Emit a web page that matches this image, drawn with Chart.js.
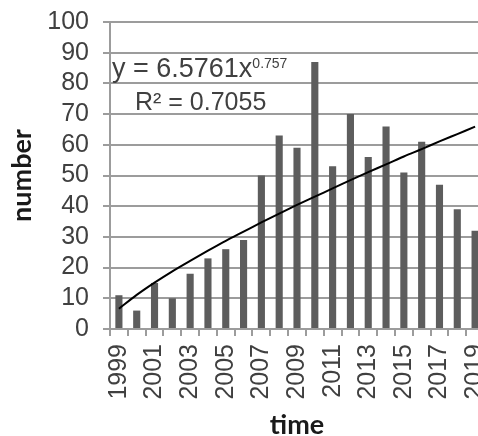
<!DOCTYPE html>
<html>
    <head>
        <meta charset="utf-8">
        <title>number by time</title>
        <script src="https://cdn.jsdelivr.net/npm/chart.js@4/dist/chart.umd.min.js"></script>
        <style>
            body { margin: 0; overflow: hidden; background: #fff; }
        </style>
    </head>
    <body>
        <canvas id="chart" width="478" height="436"></canvas>
        <script>
        // data
        const years = ['1999','2000','2001','2002','2003','2004','2005','2006','2007','2008','2009',
                       '2010','2011','2012','2013','2014','2015','2016','2017','2018','2019'];
        const counts = [11, 6, 15, 10, 18, 23, 26, 29, 50, 63, 59, 87, 53, 70, 56, 66, 51, 61, 47, 39, 32];
        // power trendline as drawn
        const trend = [6.6, 11.1, 15.1, 18.8, 22.2, 25.5, 28.7, 31.7, 34.7, 37.6, 40.4,
                       43.1, 45.8, 48.5, 51.1, 53.6, 56.2, 58.6, 61.1, 63.5, 65.9];

        const tickFont = { family: 'Liberation Sans', size: 25 };
        const titleFont = { family: 'Lato', size: 27, weight: 'bold', lineHeight: 1 };
        const gridColor = '#9c9c9c';

        // pin the plot box; it runs past the right edge of the window, like the original
        const pinPlot = {
            id: 'pinPlot',
            afterLayout(chart) {
                const x = chart.scales.x, y = chart.scales.y;
                const r = 484, t = 22;
                chart.chartArea.right = r;
                chart.chartArea.width = r - chart.chartArea.left;
                chart.chartArea.top = t;
                chart.chartArea.height = chart.chartArea.bottom - t;
                x.right = r;
                x.width = r - x.left;
                x.configure();
                y.top = t;
                y.height = y.bottom - t;
                y.configure();
            }
        };

        // gridlines, axis lines and tick marks, placed by the scales
        const gridRects = {
            id: 'gridRects',
            beforeDatasetsDraw(chart) {
                const c = chart.ctx, a = chart.chartArea;
                const x = chart.scales.x, y = chart.scales.y;
                c.save();
                c.fillStyle = gridColor;
                y.ticks.forEach(tk => {
                    const py = Math.round(y.getPixelForValue(tk.value));
                    c.fillRect(a.left - 7, py - 1, a.right - a.left + 7, 2);
                });
                c.fillRect(a.left - 1, a.top - 1, 2, a.bottom - a.top + 2);
                for (let i = 0; i <= years.length; i++) {
                    const px = Math.round(x.getPixelForValue(i - 0.5));
                    c.fillRect(px - 1, a.bottom, 2, 7);
                }
                c.restore();
            }
        };

        // trendline equation label
        const eqLabel = {
            id: 'eqLabel',
            afterDatasetsDraw(chart) {
                const c = chart.ctx;
                c.save();
                c.fillStyle = '#404040';
                c.textBaseline = 'alphabetic';
                c.font = '27px "Liberation Sans"';
                c.fillText('y = 6.5761x', 112, 77);
                const w = c.measureText('y = 6.5761x').width;
                c.font = '14px "Liberation Sans"';
                c.fillText('0.757', 112 + w, 68);
                c.font = '25px "Liberation Sans"';
                c.fillText('R² = 0.7055', 135, 110);
                c.restore();
            }
        };

        const ctx = document.getElementById('chart').getContext('2d');
        const myChart = new Chart(ctx, {
            type: 'bar',
            data: {
                labels: years,
                datasets: [{
                    type: 'line',
                    data: trend,
                    borderColor: '#000',
                    borderWidth: 2,
                    pointRadius: 0,
                    cubicInterpolationMode: 'monotone',
                    fill: false,
                    order: 0
                }, {
                    type: 'bar',
                    data: counts,
                    backgroundColor: '#5d5d5d',
                    categoryPercentage: 1,
                    barPercentage: 0.4,
                    order: 1
                }]
            },
            plugins: [pinPlot, gridRects, eqLabel],
            options: {
                responsive: false,
                animation: false,
                layout: { padding: { top: 9, right: 0, left: 0, bottom: 0 } },
                plugins: { legend: { display: false }, tooltip: { enabled: false } },
                scales: {
                    x: {
                        offset: true,
                        grid: { display: true, drawOnChartArea: false, offset: true, color: gridColor, lineWidth: 2, tickLength: 7 },
                        border: { display: true, color: gridColor, width: 2 },
                        ticks: {
                            autoSkip: false,
                            minRotation: 90,
                            maxRotation: 90,
                            padding: 8,
                            color: '#404040',
                            font: tickFont,
                            callback: (v, i) => (i % 2 === 0 ? years[i] : '')
                        },
                        title: {
                            display: true,
                            text: 'time',
                            color: '#1a1a1a',
                            font: titleFont,
                            padding: { top: 0, bottom: -3 }
                        },
                        afterFit: s => { s.height = 107; }
                    },
                    y: {
                        type: 'linear',
                        min: 0,
                        max: 100,
                        grid: { display: true, color: gridColor, lineWidth: 2, tickLength: 7 },
                        border: { display: true, color: gridColor, width: 2 },
                        ticks: { stepSize: 10, autoSkip: false, color: '#404040', font: tickFont, padding: 14 },
                        title: {
                            display: true,
                            text: 'number',
                            color: '#1a1a1a',
                            font: titleFont,
                            padding: { top: 9, bottom: 0 }
                        },
                        afterFit: s => { s.width = 110; }
                    }
                }
            }
        });
        </script>
    </body>
</html>
